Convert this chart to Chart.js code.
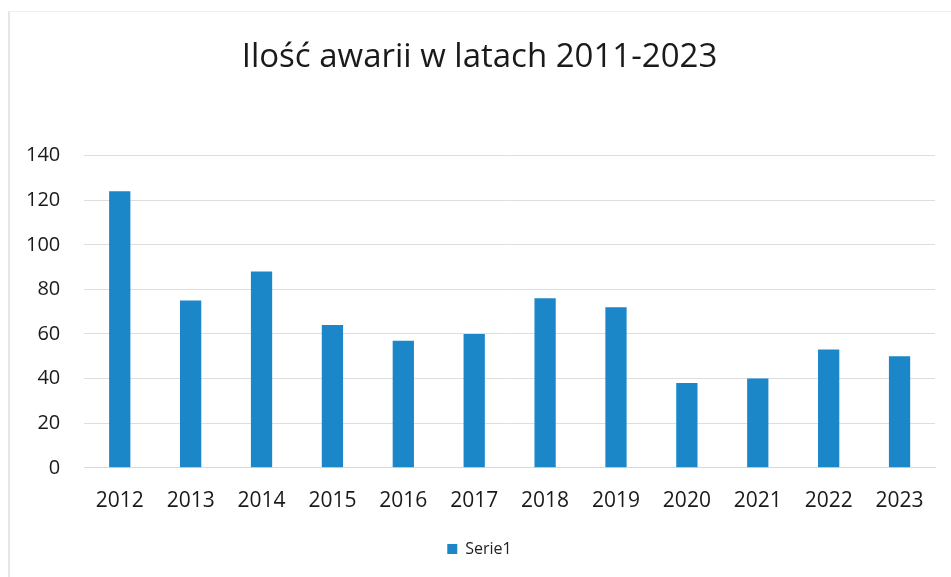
<!DOCTYPE html>
<html>
<head>
<meta charset="utf-8">
<script src="https://cdn.jsdelivr.net/npm/chart.js@4"></script>
<style>
html,body{margin:0;padding:0;background:#fff;}
#wrap{position:relative;width:951px;height:577px;}
#frame{position:absolute;left:8px;top:11px;right:0;bottom:0;border-left:2px solid #e6e6e6;border-top:1px solid #eeeeee;pointer-events:none;}
canvas{display:block;}
</style>
</head>
<body>
<div id="wrap">
<canvas id="c" width="951" height="577"></canvas>
<div id="frame"></div>
</div>
<script>
const titleText = "Ilość awarii w latach 2011-2023";
const categories = ["2012","2013","2014","2015","2016","2017","2018","2019","2020","2021","2022","2023"];
const seriesName = "Serie1";
const seriesValues = [124,75,88,64,57,60,76,72,38,40,53,50];
const yTicks = [0,20,40,60,80,100,120,140];

const FONT = "'Open Sans', 'DejaVu Sans', sans-serif";
new Chart(document.getElementById('c'), {
  type: 'bar',
  data: {
    labels: categories,
    datasets: [{
      label: seriesName,
      data: seriesValues,
      backgroundColor: '#1b87c9',
      barPercentage: 0.3,
      categoryPercentage: 1.0
    }]
  },
  options: {
    responsive: false,
    animation: false,
    devicePixelRatio: 1,
    layout: { padding: { left: 24, right: 16, top: 10, bottom: 10 } },
    plugins: {
      title: {
        display: true,
        text: titleText,
        color: '#1a1a1a',
        font: { family: FONT, size: 33, weight: 'normal' },
        padding: { top: 28, bottom: 78 }
      },
      legend: {
        display: true,
        position: 'bottom',
        labels: {
          color: '#222222',
          font: { family: FONT, size: 16 },
          boxWidth: 10,
          boxHeight: 10,
          padding: 6
        }
      },
      tooltip: { enabled: false }
    },
    scales: {
      x: {
        grid: { display: false, drawTicks: false },
        border: { display: true, color: '#d9d9d9', width: 1 },
        ticks: { color: '#1a1a1a', font: { family: FONT, size: 21 }, padding: 21, maxRotation: 0 }
      },
      y: {
        min: yTicks[0],
        max: yTicks[yTicks.length - 1],
        afterBuildTicks: (axis) => { axis.ticks = yTicks.map(v => ({ value: v })); },
        afterFit: (axis) => { axis.width = Math.max(axis.width - 22, 0); },
        grid: { color: '#dedede', lineWidth: 1, drawTicks: false },
        border: { display: false },
        ticks: { color: '#1a1a1a', font: { family: FONT, size: 20 }, padding: 24 }
      }
    }
  }
});
</script>
</body>
</html>
